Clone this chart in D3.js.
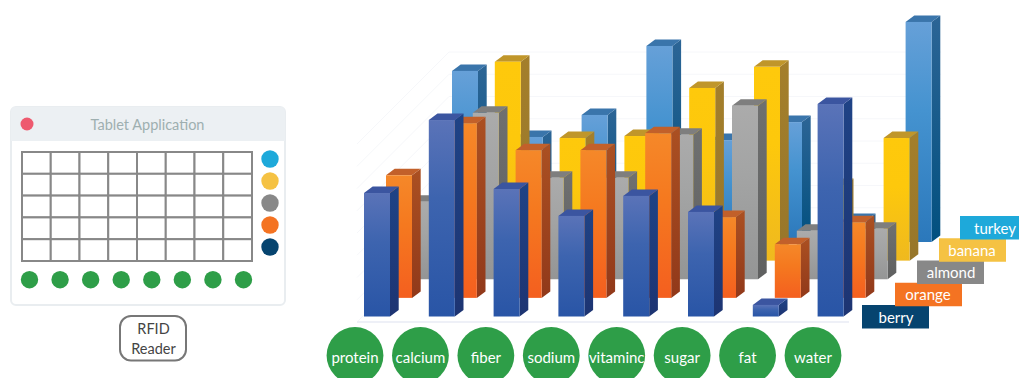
<!DOCTYPE html>
<html>
<head>
<meta charset="utf-8">
<title>Tablet Application</title>
<script src="https://cdn.jsdelivr.net/npm/d3@7.9.0/dist/d3.min.js"></script>
<style>
  html, body { margin: 0; background: #fff; }
  svg { display: block; font-family: Lato, sans-serif; }
</style>
</head>
<body>
<svg id="chart" width="1019" height="378"></svg>
<script>
const nutrients = ['protein', 'calcium', 'fiber', 'sodium', 'vitaminc', 'sugar', 'fat', 'water'];
const foods = ['berry', 'orange', 'almond', 'banana', 'turkey'];

const berry = [5.55, 8.83, 5.73, 4.52, 5.42, 4.70, 0.52, 9.55];
const orange = [5.51, 7.85, 6.64, 6.64, 7.40, 3.63, 2.41, 3.40];
const almond = [3.48, 7.48, 4.56, 4.56, 6.49, 7.80, 2.18, 2.27];
const banana = [4.00, 8.94, 5.51, 5.60, 7.76, 8.71, 3.40, 5.51];
const turkey = [7.69, 4.72, 5.71, 8.81, 4.58, 5.39, 0.99, 9.89];
const seriesValues = { berry, orange, almond, banana, turkey };

const gridTicks = d3.range(0, 9);
const tableRows = 5;

const dotColors = { turkey: '#1ea9da', banana: '#f5c243', almond: '#888888', orange: '#f47322', berry: '#06446f' };
const green = '#2e9e48';

// front face gradient stops, side gradient stops, lid colour
const barStyle = {
  berry: { front: ['#5a73b8', '#3d64af', '#2955a6'], side: ['#1f4386', '#1d3472'], lid: '#3b55a0' },
  orange: { front: ['#f58829', '#f5791f', '#f45f1f'], side: ['#ab5022', '#91391a'], lid: '#c2602a' },
  almond: { front: ['#ababab', '#a3a4a4', '#949595'], side: ['#6f7070', '#5f6060'], lid: '#7e7e7e' },
  banana: { front: ['#fec90c', '#fdc80c', '#efb91f'], side: ['#a47f2b', '#97762a'], lid: '#c0962a' },
  turkey: { front: ['#66a0d8', '#4593d0', '#2b78bb'], side: ['#2c6596', '#02507f'], lid: '#3a75ab' }
};

const svg = d3.select('#chart');
const defs = svg.append('defs');

function addGradient(id, stops) {
  const g = defs.append('linearGradient').attr('id', id)
    .attr('x1', 0).attr('y1', 0).attr('x2', 0).attr('y2', 1);
  const offsets = stops.length === 3 ? [0, 0.4, 1] : [0, 1];
  stops.forEach((c, i) => {
    g.append('stop').attr('offset', offsets[i]).attr('stop-color', c);
  });
}

foods.forEach((f) => {
  addGradient(`front-${f}`, barStyle[f].front);
  addGradient(`side-${f}`, barStyle[f].side);
});

// Left hand tablet panel
function drawTablet() {
  const panel = svg.append('g');
  const x0 = 11, y0 = 107, w = 274, h = 198;

  panel.append('rect')
    .attr('x', x0).attr('y', y0).attr('width', w).attr('height', h).attr('rx', 5)
    .attr('fill', '#fff').attr('stroke', '#e9edf0').attr('stroke-width', 2);
  panel.append('path')
    .attr('d', `M${x0},141 V${y0 + 5} Q${x0},${y0} ${x0 + 5},${y0} H${x0 + w - 5} Q${x0 + w},${y0} ${x0 + w},${y0 + 5} V141 Z`)
    .attr('fill', '#ecf0f3');
  panel.append('circle').attr('cx', 27).attr('cy', 124).attr('r', 6.5).attr('fill', '#ee5a6f');
  panel.append('text')
    .attr('x', 147.5).attr('y', 129.5).attr('text-anchor', 'middle')
    .attr('font-size', 14.5).attr('fill', '#9eafb0')
    .text('Tablet Application');

  const col = d3.scaleBand().domain(nutrients).range([22, 252]);
  const row = d3.scaleBand().domain(d3.range(tableRows)).range([152, 261]);

  nutrients.forEach((n) => {
    d3.range(tableRows).forEach((r) => {
      panel.append('rect')
        .attr('x', col(n)).attr('y', row(r))
        .attr('width', col.bandwidth()).attr('height', row.bandwidth())
        .attr('fill', '#fff').attr('stroke', '#888').attr('stroke-width', 2);
    });
  });

  const dotY = d3.scalePoint().domain([...foods].reverse()).range([159, 247]);
  foods.forEach((f) => {
    panel.append('circle').attr('cx', 270).attr('cy', dotY(f)).attr('r', 8.7).attr('fill', dotColors[f]);
  });

  const dotX = d3.scalePoint().domain(nutrients).range([29.5, 243.5]);
  nutrients.forEach((n) => {
    panel.append('circle').attr('cx', dotX(n)).attr('cy', 279.7).attr('r', 8.7).attr('fill', green);
  });

  panel.append('rect')
    .attr('x', 120).attr('y', 316).attr('width', 66).attr('height', 44.5).attr('rx', 11)
    .attr('fill', '#fff').attr('stroke', '#777').attr('stroke-width', 2);
  ['RFID', 'Reader'].forEach((t, i) => {
    panel.append('text')
      .attr('x', 153.5).attr('y', 334 + i * 20).attr('text-anchor', 'middle')
      .attr('font-size', 14.5).attr('fill', '#444')
      .text(t);
  });
}

// 3D column chart: series run front to back, nutrients left to right
function drawBars() {
  const baseX = 364, baseY = 316.5;
  const x = d3.scaleBand().domain(nutrients).range([baseX, baseX + 8 * 64.8]).paddingInner(0);
  const barW = 26, sideX = 8.7, sideY = 6.5;

  const depthX = d3.scalePoint().domain(foods).range([0, 88]);
  const depthY = d3.scalePoint().domain(foods).range([0, 74.5]);
  const y = d3.scaleLinear().domain([0, 10]).range([0, 222.5]);

  // wall gridlines and floor edge, barely visible behind the columns
  const grid = svg.append('g').attr('fill', 'none').attr('stroke', '#f6f7fa').attr('stroke-width', 1);
  gridTicks.forEach((t) => {
    const h = y(t);
    grid.append('path').attr('d', `M357,${322 - h} L449,${230 - h} H941`);
  });
  svg.append('line')
    .attr('x1', 357).attr('x2', 849).attr('y1', 322).attr('y2', 322)
    .attr('stroke', '#eef0f7').attr('stroke-width', 2);

  [...foods].reverse().forEach((f) => {
    const g = svg.append('g');
    nutrients.forEach((n, i) => {
      const h = y(seriesValues[f][i]);
      const x0 = x(n) + depthX(f);
      const y0 = baseY - depthY(f);
      const top = y0 - h;

      g.append('path')
        .attr('d', `M${x0 + barW},${top} l${sideX},${-sideY} V${y0 - sideY} l${-sideX},${sideY} Z`)
        .attr('fill', `url(#side-${f})`);
      g.append('path')
        .attr('d', `M${x0},${top} l${sideX},${-sideY} h${barW} l${-sideX},${sideY} Z`)
        .attr('fill', barStyle[f].lid);
      g.append('rect')
        .attr('x', x0).attr('y', top).attr('width', barW).attr('height', h)
        .attr('fill', `url(#front-${f})`);
    });
  });
}

// Green nutrient tokens along the bottom
function drawNutrients() {
  const cx = d3.scalePoint().domain(nutrients).range([355, 813]);
  const g = svg.append('g');
  nutrients.forEach((n) => {
    g.append('circle').attr('cx', cx(n)).attr('cy', 355.5).attr('r', 28.4).attr('fill', green);
    g.append('text')
      .attr('x', cx(n)).attr('y', 363).attr('text-anchor', 'middle')
      .attr('font-size', 15).attr('fill', '#fff')
      .text(n);
  });
}

// Stepped food labels on the right
function drawFoodLabels() {
  const left = d3.scaleOrdinal().domain(foods).range([862, 895, 917, 939, 960]);
  const labelX = d3.scaleOrdinal().domain(foods).range([896, 928, 951, 972, 995]);
  const topY = d3.scalePoint().domain(foods).range([305, 216]);
  const g = svg.append('g');
  foods.forEach((f) => {
    g.append('rect')
      .attr('x', left(f)).attr('y', topY(f)).attr('width', 67).attr('height', 23.5)
      .attr('fill', dotColors[f]);
    g.append('text')
      .attr('x', labelX(f)).attr('y', topY(f) + 17.5)
      .attr('text-anchor', 'middle')
      .attr('font-size', 15).attr('fill', '#fff')
      .text(f);
  });
}

drawTablet();
drawBars();
drawNutrients();
drawFoodLabels();
</script>
</body>
</html>
